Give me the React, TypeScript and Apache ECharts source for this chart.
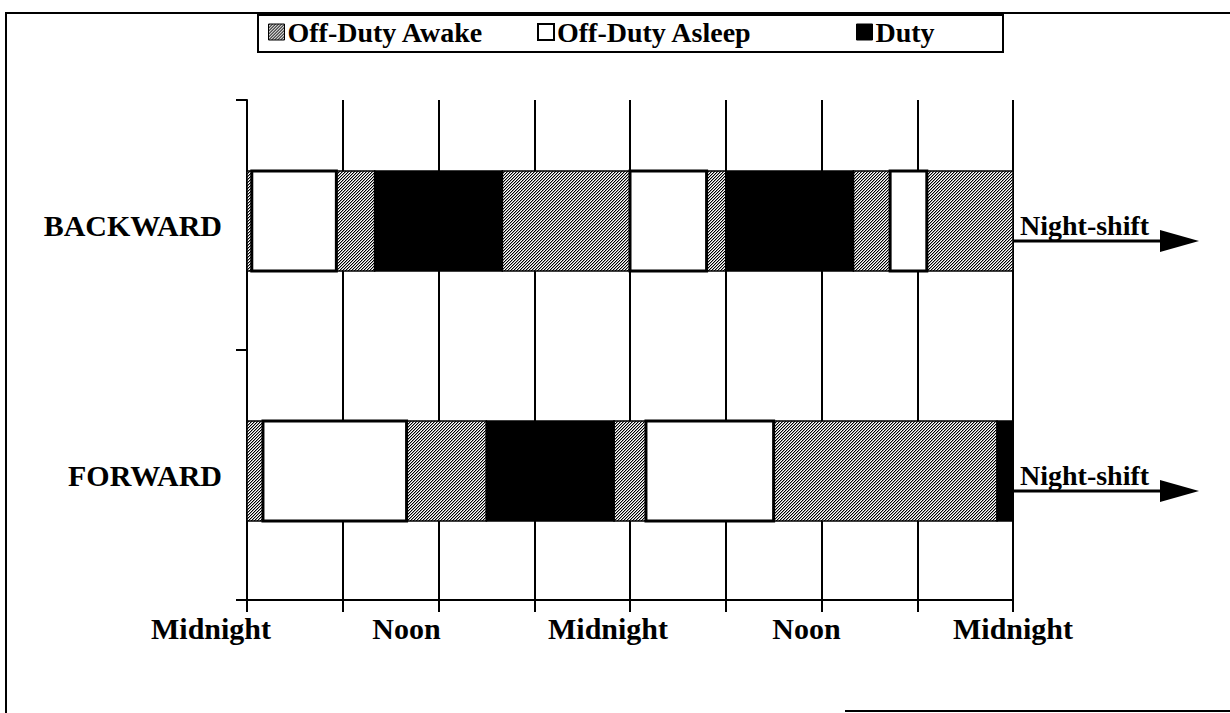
import React, { useEffect, useRef } from "react";
import * as echarts from "echarts";

// ---- data ----
const categories = ["BACKWARD", "FORWARD"];
const typeNames = ["Off-Duty Awake", "Off-Duty Asleep", "Duty"];
// hours from the first midnight (0..48): [start, end]
const backwardAwake = [[0, 0.3], [5.6, 8], [16, 24], [28.8, 30], [38, 40.3], [42.6, 48]];
const backwardAsleep = [[0.3, 5.6], [24, 28.8], [40.3, 42.6]];
const backwardDuty = [[8, 16], [30, 38]];
const forwardAwake = [[0, 1], [10, 15], [23, 25], [33, 47]];
const forwardAsleep = [[1, 10], [25, 33]];
const forwardDuty = [[15, 23], [47, 48]];
const tickHours = [0, 12, 24, 36, 48];
const tickLabels = ["Midnight", "Noon", "Midnight", "Noon", "Midnight"];
const arrowLabels = ["Night-shift", "Night-shift"];

const FONT = '"Liberation Serif", "Times New Roman", serif';

function makePattern() {
  const n = 3;
  const c = document.createElement("canvas");
  c.width = n;
  c.height = n;
  const ctx = c.getContext("2d")!;
  ctx.fillStyle = "#ffffff";
  ctx.fillRect(0, 0, n, n);
  for (let x = 0; x < n; x++) {
    for (let y = 0; y < n; y++) {
      const k = (x + y) % n;
      if (k === 0) {
        ctx.fillStyle = "#000000";
        ctx.fillRect(x, y, 1, 1);
      } else if (k === 1) {
        ctx.fillStyle = "#a0a0a0";
        ctx.fillRect(x, y, 1, 1);
      }
    }
  }
  return { image: c, repeat: "repeat", imageWidth: n, imageHeight: n } as any;
}

export default function App() {
  const ref = useRef<HTMLDivElement>(null);
  useEffect(() => {
    if (!ref.current) return;
    const chart = echarts.init(ref.current, null, { renderer: "svg" });
    const pattern = makePattern();
    const toData = (b: number[][], f: number[][]) => [
      ...b.map(([s, e]) => [0, s, e]),
      ...f.map(([s, e]) => [1, s, e]),
    ];
    const fills = [pattern, "#ffffff", "#000000"];
    const strokes = [1.5, 3, 1.5];
    const datasets = [
      toData(backwardAwake, forwardAwake),
      toData(backwardAsleep, forwardAsleep),
      toData(backwardDuty, forwardDuty),
    ];
    const barShift = -4;
    const segSeries = typeNames.map((name, ti) => ({
      name,
      type: "custom",
      clip: false,
      z: ti === 1 ? 4 : 3,
      itemStyle: { color: fills[ti], borderColor: "#000", borderWidth: 1 },
      encode: { x: [1, 2], y: 0 },
      data: datasets[ti],
      renderItem: (params: any, api: any) => {
        const cat = api.value(0);
        const p0 = api.coord([api.value(1), cat]);
        const p1 = api.coord([api.value(2), cat]);
        const h = api.size([0, 1])[1] * 0.4;
        return {
          type: "rect",
          shape: { x: p0[0], y: p0[1] - h / 2 + barShift, width: p1[0] - p0[0], height: h },
          style: { fill: fills[ti], stroke: "#000", lineWidth: strokes[ti] },
        };
      },
    }));

    const arrowSeries = {
      type: "custom",
      clip: false,
      silent: true,
      z: 5,
      encode: { y: 0 },
      data: arrowLabels.map((t, i) => [i, 48]),
      renderItem: (params: any, api: any) => {
        const i = api.value(0);
        const p = api.coord([48, i]);
        const ax = p[0];
        const ay = p[1] + barShift;
        return {
          type: "group",
          children: [
            {
              type: "line",
              shape: { x1: ax, y1: ay + 20, x2: ax + 150, y2: ay + 20 },
              style: { stroke: "#000", lineWidth: 3 },
            },
            {
              type: "polygon",
              shape: { points: [[ax + 147, ay + 9], [ax + 186, ay + 20], [ax + 147, ay + 31]] },
              style: { fill: "#000" },
            },
            {
              type: "text",
              style: {
                text: arrowLabels[i],
                x: ax + 7,
                y: ay + 18,
                align: "left",
                verticalAlign: "bottom",
                fill: "#000",
                fontSize: 28,
                fontWeight: "bold",
                fontFamily: FONT,
              },
            },
          ],
        };
      },
    };

    const labelShift = [-36, -32, -22, -15, 0];
    const rich: any = {};
    tickLabels.forEach((t, i) => {
      rich["l" + i] = {
        fontSize: 30,
        fontWeight: "bold",
        fontFamily: FONT,
        color: "#000",
        padding: labelShift[i] < 0 ? [0, -2 * labelShift[i], 0, 0] : [0, 0, 0, 2 * labelShift[i]],
      };
    });

    const legendPos = [268, 537, 856];
    const legendStyles = [
      { color: pattern, borderColor: "#000", borderWidth: 1 },
      { color: "#fff", borderColor: "#000", borderWidth: 2 },
      { color: "#000", borderColor: "#000", borderWidth: 1 },
    ];

    chart.setOption({
      animation: false,
      backgroundColor: "#fff",
      grid: { left: 247, right: 217, top: 100, bottom: 113, containLabel: false },
      legend: typeNames.map((n, i) => ({
        data: [{ name: n, itemStyle: legendStyles[i] }],
        left: legendPos[i],
        top: 18,
        padding: 0,
        icon: "rect",
        itemWidth: 16,
        itemHeight: 16,
        selectedMode: false,
        textStyle: { fontSize: 28, fontWeight: "bold", fontFamily: FONT, color: "#000", padding: [0, 0, 0, -2] },
      })),
      xAxis: {
        type: "value",
        min: 0,
        max: 48,
        interval: 6,
        axisLine: { show: true, lineStyle: { color: "#000", width: 2 } },
        axisTick: { show: true, length: 12, lineStyle: { color: "#000", width: 2 } },
        splitLine: { show: true, lineStyle: { color: "#000", width: 2 } },
        axisLabel: {
          margin: 13,
          showMinLabel: true,
          showMaxLabel: true,
          formatter: (v: number) => {
            const idx = tickHours.indexOf(v);
            return idx >= 0 ? `{l${idx}|${tickLabels[idx]}}` : "";
          },
          rich,
        },
      },
      yAxis: {
        type: "category",
        inverse: true,
        data: categories,
        axisLine: { show: true, lineStyle: { color: "#000", width: 2 } },
        axisTick: { show: true, length: 11, lineStyle: { color: "#000", width: 2 } },
        splitLine: { show: false },
        axisLabel: {
          margin: 25,
          fontSize: 30,
          fontWeight: "bold",
          fontFamily: FONT,
          color: "#000",
        },
      },
      graphic: [
        {
          type: "polyline",
          shape: { points: [[1232, 13], [6, 13], [6, 715]] },
          style: { stroke: "#000", lineWidth: 2, fill: "none" },
        },
        {
          type: "line",
          shape: { x1: 845, y1: 711, x2: 1232, y2: 711 },
          style: { stroke: "#000", lineWidth: 2 },
        },
        {
          type: "rect",
          shape: { x: 258, y: 15, width: 745, height: 37 },
          style: { stroke: "#000", lineWidth: 2, fill: "none" },
        },
      ],
      series: [...segSeries, arrowSeries],
    });
    return () => chart.dispose();
  }, []);
  return (
    <div
      ref={ref}
      style={{ position: "fixed", left: 0, top: 0, width: 1230, height: 713, background: "#fff" }}
    />
  );
}
